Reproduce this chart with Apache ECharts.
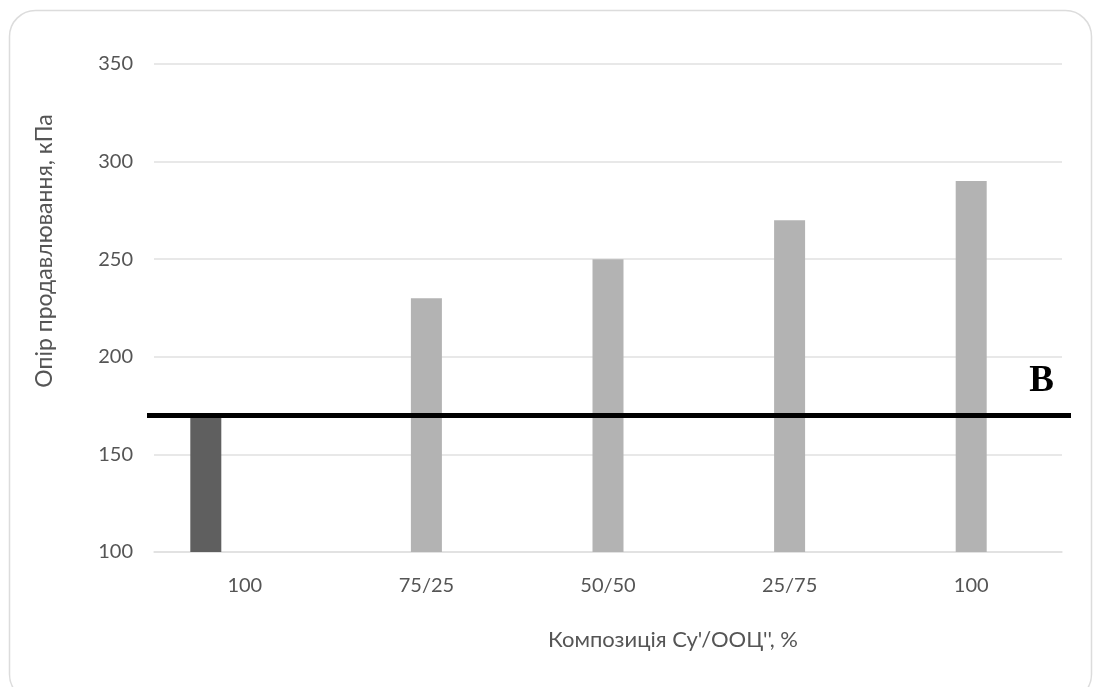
<!DOCTYPE html>
<html>
<head>
<meta charset="utf-8">
<script src="https://cdn.jsdelivr.net/npm/echarts@6/dist/echarts.min.js"></script>
<style>
html,body{margin:0;padding:0;background:#fff;}
#chart{width:1093px;height:687px;}
</style>
</head>
<body>
<div id="chart"></div>
<script>
const categories = ['100', '75/25', '50/50', '25/75', '100'];
const controlValues = [170, '-', '-', '-', '-'];
const compositeValues = ['-', 230, 250, 270, 290];
const emptyValues = ['-', '-', '-', '-', '-'];
const referenceLevel = 170;
const referenceLabel = 'B';
const yTicks = { min: 100, max: 350, interval: 50 };
const xTitle = "Композиція Су'/ООЦ'', %";
const yTitle = 'Опір продавлювання, кПа';

const chart = echarts.init(document.getElementById('chart'), null, { renderer: 'canvas' });
const textColor = '#555555';
const font = 'Lato, "Open Sans", sans-serif';

chart.setOption({
  animation: false,
  backgroundColor: '#ffffff',
  grid: { left: 154, right: 31, top: 64, bottom: 135, containLabel: false },
  xAxis: {
    type: 'category',
    data: categories,
    axisLine: { show: true, lineStyle: { color: '#e0e0e0', width: 1.5 } },
    axisTick: { show: false },
    axisLabel: { color: textColor, fontSize: 20, fontFamily: font, margin: 24 }
  },
  yAxis: {
    type: 'value',
    min: yTicks.min,
    max: yTicks.max,
    interval: yTicks.interval,
    axisLine: { show: false },
    axisTick: { show: false },
    axisLabel: { color: textColor, fontSize: 20, fontFamily: font, margin: 21 },
    splitLine: { lineStyle: { color: '#e0e0e0', width: 1.5 } }
  },
  series: [
    {
      type: 'bar',
      data: controlValues,
      barWidth: 31,
      barGap: '25.8%',
      itemStyle: { color: '#5f5f5f' },
      z: 2
    },
    {
      type: 'bar',
      data: compositeValues,
      barWidth: 31,
      barGap: '25.8%',
      itemStyle: { color: '#b3b3b3' },
      z: 2,
      markLine: {
        silent: true,
        symbol: ['none', 'none'],
        z: 5,
        lineStyle: { color: '#000000', width: 5, type: 'solid' },
        label: {
          show: true,
          position: 'insideEndTop',
          formatter: referenceLabel,
          distance: [17, 15],
          color: '#000000',
          fontFamily: '"Liberation Serif", "DejaVu Serif", serif',
          fontWeight: 'bold',
          fontSize: 37
        },
        data: [[{ x: 147, yAxis: referenceLevel }, { x: 1071, yAxis: referenceLevel }]]
      }
    },
    {
      type: 'bar',
      data: emptyValues,
      barWidth: 31,
      barGap: '25.8%',
      itemStyle: { color: '#b3b3b3' }
    }
  ],
  graphic: [
    {
      type: 'rect',
      shape: { x: 9.5, y: 10.5, width: 1082, height: 690, r: 26 },
      style: { fill: 'none', stroke: '#dcdcdc', lineWidth: 1.5 },
      silent: true,
      z: -1
    },
    {
      type: 'text',
      x: 673,
      y: 640,
      style: { text: xTitle, fill: textColor, font: '22px ' + font, align: 'center', verticalAlign: 'middle' }
    },
    {
      type: 'text',
      x: 45,
      y: 251,
      rotation: Math.PI / 2,
      style: { text: yTitle, fill: textColor, font: '23px ' + font, align: 'center', verticalAlign: 'middle' }
    }
  ]
});
</script>
</body>
</html>
